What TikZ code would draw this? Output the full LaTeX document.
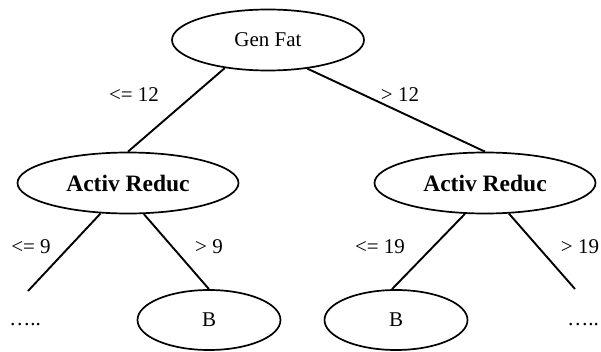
\documentclass[tikz,border=0pt]{standalone}
\usepackage{fontspec}
\setmainfont{Liberation Serif}
\usetikzlibrary{shapes.geometric}
\tikzstyle{node} = [ellipse, draw=black, line width=1.7pt, inner sep=0pt, text centered, font=\fontsize{21}{24}\selectfont]
\tikzstyle{rootnode} = [node, minimum width=192pt, minimum height=61pt]
\tikzstyle{splitnode} = [node, minimum width=221pt, minimum height=61pt, font=\fontsize{23.5}{26}\selectfont\bfseries]
\tikzstyle{leafnode} = [node, minimum width=143pt, minimum height=60pt]
\tikzstyle{cond} = [font=\fontsize{21}{24}\selectfont, inner sep=0pt]
\tikzstyle{branch} = [line width=1.9pt]

\begin{document}
\begin{tikzpicture}[x=1pt, y=1pt]
  \useasboundingbox (0,0) rectangle (601,351);
  % Gyoker
  \node (genfat) [rootnode] at (268,311) {Gen Fat};
  % Belso csucsok
  \node (reducL) [splitnode] at (128,168) {Activ Reduc};
  \node (reducR) [splitnode] at (485,168) {Activ Reduc};
  % Levelek
  \node (bL) [leafnode] at (209,31) {B};
  \node (bR) [leafnode] at (396,31) {B};
  \node (moreL) [cond] at (25,26) {…..};
  \node (moreR) [cond] at (583,26) {…..};
  \coordinate (endL) at (28,60);
  \coordinate (endR) at (575,62);
  % Agak
  \draw [branch] (genfat.213) -- (reducL.north);
  \draw [branch] (genfat.324) -- (reducR.north);
  \draw [branch] (reducL.228) -- (endL);
  \draw [branch] (reducL.297) -- (bL.north);
  \draw [branch] (reducR.237) -- ([xshift=-4pt]bR.north);
  \draw [branch] (reducR.308) -- (endR);
  % Feltetelek
  \node (le12) [cond] at (134,256) {<= 12};
  \node (gt12) [cond] at (400,256) {> 12};
  \node (le9) [cond] at (31,104) {<= 9};
  \node (gt9) [cond] at (209,104) {> 9};
  \node (le19) [cond] at (380,104) {<= 19};
  \node (gt19) [cond] at (580,104) {> 19};
\end{tikzpicture}
\end{document}
